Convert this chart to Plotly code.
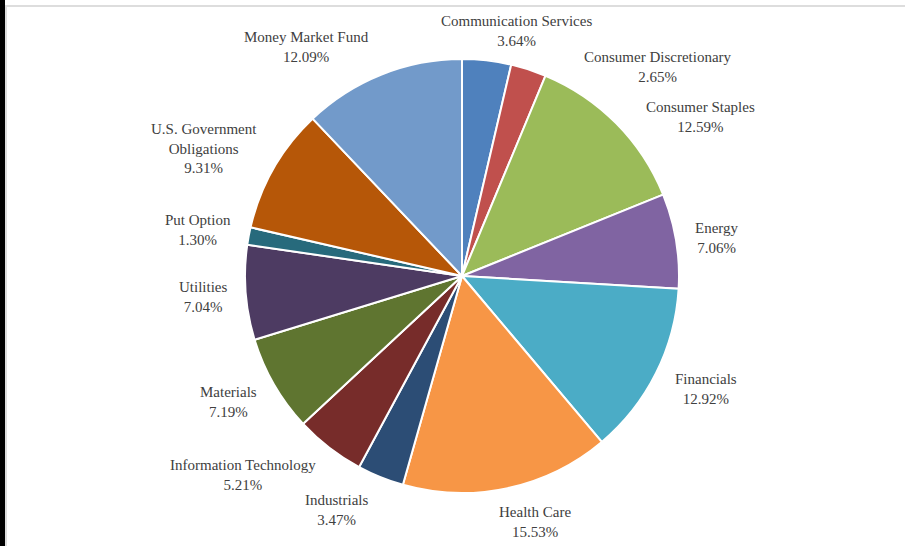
import math
import plotly.graph_objects as go

categories = ["Communication Services", "Consumer Discretionary", "Consumer Staples", "Energy",
              "Financials", "Health Care", "Industrials", "Information Technology", "Materials",
              "Utilities", "Put Option", "U.S. Government<br>Obligations", "Money Market Fund"]
values = [3.64, 2.65, 12.59, 7.06, 12.92, 15.53, 3.47, 5.21, 7.19, 7.04, 1.30, 9.31, 12.09]
colors = ["#4F81BD", "#C0504D", "#9BBB59", "#8064A2", "#4BACC6", "#F79646", "#2C4D75",
          "#772C2A", "#5F7530", "#4D3B62", "#276A7C", "#B65708", "#729ACA"]

W, H = 905, 546
cx, cy, r = 462, 276, 217
FONT = "Liberation Serif"
FS = 15
LINE_H = 18
CHAR_W = 6.9
GAP = 17
# Excel's overlap avoidance moved some crowded labels (pixel nudges)
nudge = {"Consumer Discretionary": (54, 31), "Consumer Staples": (17, 18),
         "Communication Services": (2, 5), "Money Market Fund": (-10, 5),
         "Energy": (3, 3), "Utilities": (5, 2), "U.S. Government<br>Obligations": (-3, 2)}

fig = go.Figure(go.Pie(
    labels=categories, values=values, sort=False, direction="clockwise", rotation=0,
    marker=dict(colors=colors, line=dict(color="white", width=2)),
    textinfo="none",
    domain=dict(x=[(cx - r) / W, (cx + r) / W], y=[(H - cy - r) / H, (H - cy + r) / H]),
    showlegend=False, hoverinfo="label+value",
))

total = sum(values)
annotations = []
cum = 0.0
for lab, v in zip(categories, values):
    mid = (cum + v / 2) / total * 2 * math.pi
    cum += v
    s, c = math.sin(mid), math.cos(mid)
    lines = lab.split("<br>") + [f"{v:.2f}%"]
    w = max(len(t) for t in lines) * CHAR_W
    h = len(lines) * LINE_H
    px = cx + (r + GAP) * s
    py = cy - (r + GAP) * c
    fx = max(-1.0, min(1.0, 3 * s))
    x = px + fx * w / 2
    y = py - c * h / 2
    dx, dy = nudge.get(lab, (0, 0))
    x += dx
    y += dy
    annotations.append(dict(
        text=f"{lab}<br>{v:.2f}%", x=x / W, y=1 - y / H, xref="paper", yref="paper",
        xanchor="center", yanchor="middle", showarrow=False, align="center",
        font=dict(family=FONT, size=FS, color="#404040"),
    ))

fig.update_layout(
    width=W, height=H, margin=dict(l=0, r=0, t=0, b=0),
    paper_bgcolor="white", plot_bgcolor="white",
    annotations=annotations,
    shapes=[
        dict(type="rect", xref="paper", yref="paper", x0=0, x1=4.5 / W, y0=0, y1=1,
             fillcolor="black", line=dict(color="black", width=1), layer="above"),
        dict(type="line", xref="paper", yref="paper", x0=5 / W, x1=1, y0=1 - 6 / H, y1=1 - 6 / H,
             line=dict(color="#DDDDDD", width=2), layer="above"),
        dict(type="line", xref="paper", yref="paper", x0=6 / W, x1=6 / W, y0=0, y1=1 - 6 / H,
             line=dict(color="#DDDDDD", width=2), layer="above"),
    ],
)

fig.write_html("out.html", config={"displayModeBar": False},
               post_script="document.body.style.margin='0';document.body.style.overflow='hidden';")
